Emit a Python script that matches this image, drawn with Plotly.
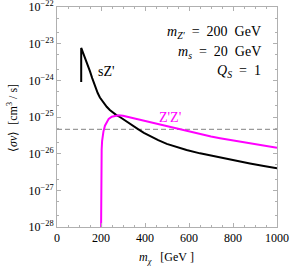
import plotly.graph_objects as go

# sZ' channel
m_sz = [110, 110, 112, 116, 120, 127, 135, 142, 150, 160, 173, 185, 195, 210, 226, 240, 256, 270, 286, 310, 332, 350, 370, 395, 423, 460, 499, 545, 589, 650, 700, 741, 800, 877, 940, 1000]
sv_sz = [9e-25, 7.6e-24, 7.2e-24, 6.2e-24, 5.4e-24, 4.2e-24, 3.2e-24, 2.4e-24, 1.75e-24, 1.15e-24, 6.8e-25, 4.5e-25, 3.4e-25, 2.5e-25, 1.9e-25, 1.55e-25, 1.28e-25, 1.13e-25, 1.0e-25, 7.9e-26, 6.4e-26, 5.4e-26, 4.6e-26, 3.7e-26, 3.0e-26, 2.35e-26, 1.85e-26, 1.5e-26, 1.26e-26, 1.02e-26, 8.8e-27, 7.8e-27, 6.6e-27, 5.4e-27, 4.6e-27, 4.0e-27]

# Z'Z' channel
m_zz = [200, 200.3, 200.6, 201, 201.5, 202, 203, 205, 208, 211, 218, 226, 235, 249, 264, 280, 300, 330, 377, 420, 468, 515, 559, 605, 650, 700, 741, 800, 877, 940, 1000]
sv_zz = [5e-29, 3e-28, 8e-28, 2e-27, 4e-27, 7e-27, 1.3e-26, 2.2e-26, 3.1e-26, 4.0e-26, 5.8e-26, 7.4e-26, 8.9e-26, 1.02e-25, 1.09e-25, 1.12e-25, 1.08e-25, 9.8e-26, 8.3e-26, 7.2e-26, 6.2e-26, 5.3e-26, 4.55e-26, 3.9e-26, 3.4e-26, 2.95e-26, 2.65e-26, 2.3e-26, 1.9e-26, 1.65e-26, 1.45e-26]

# thermal relic reference
m_ref = [0, 1000]
sv_ref = [4.6e-26, 4.6e-26]

y_exps = [-22, -23, -24, -25, -26, -27, -28]
y_tickvals = [10.0 ** e for e in y_exps]
y_ticktext = ["10<sup>\u2212%d</sup>" % (-e) for e in y_exps]
x_tickvals = [0, 200, 400, 600, 800, 1000]

serif = "Liberation Serif"
NB = "\u00a0"

L, R, T, B = 57, 277, 7, 227


def px(x):
    return (x - L) / (R - L)


def py(y):
    return 1 - (y - T) / (B - T)


fig = go.Figure()
fig.add_trace(go.Scatter(x=m_ref, y=sv_ref, mode="lines",
                         line=dict(color="#9a9a9a", width=1.2, dash="5px,3px"), hoverinfo="skip"))
fig.add_trace(go.Scatter(x=m_sz, y=sv_sz, mode="lines",
                         line=dict(color="black", width=2)))
fig.add_trace(go.Scatter(x=m_zz, y=sv_zz, mode="lines",
                         line=dict(color="#ff00ff", width=2)))

fig.update_layout(
    width=291, height=271,
    margin=dict(l=L, r=291 - R, t=T, b=271 - B),
    paper_bgcolor="white", plot_bgcolor="white",
    showlegend=False,
    font=dict(family=serif, size=12, color="black"),
)
fig.update_xaxes(
    range=[0, 1000], tickvals=x_tickvals, ticktext=[str(v) for v in x_tickvals],
    showgrid=False, zeroline=False, automargin=False, ticklabeloverflow="allow",
    showline=True, linecolor="#b0b0b0", linewidth=1, mirror="allticks",
    ticks="inside", ticklen=4, tickcolor="#b0b0b0",
    minor=dict(ticks="inside", ticklen=2, tickcolor="#b0b0b0", dtick=50, showgrid=False),
    tickfont=dict(family=serif, size=12),
)
fig.update_yaxes(
    type="log", range=[-28, -22], tickvals=y_tickvals, ticktext=y_ticktext,
    showgrid=False, zeroline=False, automargin=False, ticklabeloverflow="allow",
    showline=True, linecolor="#b0b0b0", linewidth=1, mirror="allticks",
    ticks="inside", ticklen=4, tickcolor="#b0b0b0",
    minor=dict(ticks="inside", ticklen=2, tickcolor="#b0b0b0", showgrid=False),
    tickfont=dict(family=serif, size=12),
)

# axis titles
fig.add_annotation(x=px(166), y=py(258), xref="paper", yref="paper",
                   text="<i>m</i><sub><i>\u03c7</i></sub>" + NB * 3 + "[GeV" + NB + "]",
                   showarrow=False, xanchor="center", yanchor="middle",
                   font=dict(family=serif, size=12, color="black"))
fig.add_annotation(x=px(12), y=py(118), xref="paper", yref="paper",
                   text="\u27e8<i>\u03c3v</i>\u27e9" + NB * 2 + "[cm<sup>3</sup>" + NB + "/" + NB + "s]",
                   showarrow=False, xanchor="center", yanchor="middle", textangle=-90,
                   font=dict(family=serif, size=12, color="black"))

ann_font = dict(family=serif, size=14, color="black")
for txt, ypx in [("<i>m</i><sub><i>Z'</i></sub>" + NB * 2 + "=" + NB * 2 + "200" + NB * 2 + "GeV", 32),
                 ("<i>m</i><sub><i>s</i></sub>" + NB * 2 + "=" + NB * 2 + "20" + NB * 2 + "GeV", 52),
                 ("<i>Q</i><sub><i>S</i></sub>" + NB * 2 + "=" + NB * 2 + "1", 72)]:
    fig.add_annotation(x=px(263), y=py(ypx), xref="paper", yref="paper",
                       text=txt, showarrow=False, xanchor="right", yanchor="middle", font=ann_font)
fig.add_annotation(x=px(106), y=py(72), xref="paper", yref="paper",
                   text="sZ'", showarrow=False, xanchor="center", yanchor="middle",
                   font=dict(family=serif, size=14, color="black"))
fig.add_annotation(x=px(170), y=py(117), xref="paper", yref="paper",
                   text="Z'Z'", showarrow=False, xanchor="center", yanchor="middle",
                   font=dict(family=serif, size=14, color="#ff00ff"))

fig.write_html("out.html", config={"displayModeBar": False},
               post_script="document.body.style.margin='0';document.body.style.padding='0';")
